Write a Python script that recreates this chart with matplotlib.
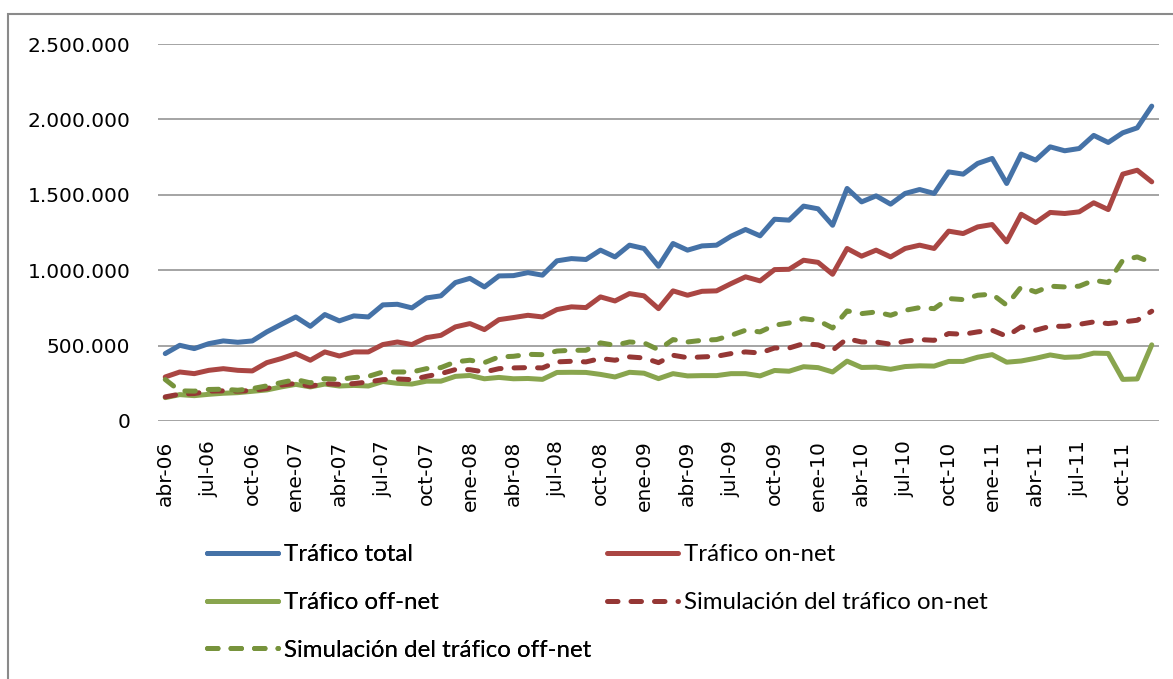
import matplotlib
matplotlib.use("Agg")
import matplotlib.pyplot as plt
from matplotlib.patches import Rectangle
from matplotlib.ticker import FuncFormatter

# mensual, abr-06 .. dic-11 (69 meses)
trafico_total = [447, 502, 480, 513, 531, 522, 531, 591, 641, 690, 628, 706, 664, 697, 690, 770, 774, 750,
                 816, 830, 918, 946, 889, 962, 964, 984, 967, 1062, 1077, 1071, 1133, 1088, 1166, 1144, 1026,
                 1177, 1133, 1161, 1166, 1225, 1270, 1228, 1338, 1332, 1425, 1407, 1298, 1542, 1453, 1493,
                 1438, 1509, 1535, 1509, 1652, 1637, 1708, 1741, 1575, 1770, 1730, 1818, 1792, 1807, 1894,
                 1847, 1911, 1944, 2088]
trafico_on = [292, 325, 314, 336, 347, 336, 332, 387, 414, 447, 403, 458, 431, 458, 458, 507, 524, 507,
              553, 568, 624, 646, 606, 672, 686, 701, 690, 739, 757, 752, 823, 796, 845, 830, 745, 863, 834,
              860, 863, 911, 956, 929, 1004, 1006, 1066, 1052, 973, 1144, 1093, 1133, 1088, 1144, 1166, 1144,
              1259, 1243, 1287, 1303, 1188, 1371, 1316, 1383, 1376, 1387, 1447, 1402, 1637, 1663, 1586]
trafico_off = [155, 175, 168, 177, 184, 188, 197, 206, 226, 243, 226, 245, 232, 236, 232, 262, 250, 245,
               264, 264, 296, 302, 280, 289, 280, 282, 276, 322, 323, 322, 309, 292, 323, 317, 281, 314, 299,
               301, 301, 314, 314, 299, 335, 330, 360, 354, 325, 397, 355, 357, 343, 361, 366, 364, 395, 395,
               423, 440, 390, 398, 416, 438, 422, 426, 450, 448, 276, 279, 505]
sim_on = [160, 178, 182, 198, 200, 198, 202, 215, 238, 249, 231, 248, 243, 248, 259, 274, 279, 274, 296,
          314, 341, 340, 325, 347, 352, 354, 352, 392, 396, 392, 414, 403, 425, 418, 387, 436, 420, 425, 429,
          447, 458, 451, 484, 484, 513, 505, 469, 546, 524, 524, 509, 529, 540, 535, 580, 575, 591, 602, 562,
          624, 602, 628, 628, 641, 657, 646, 657, 668, 728]
sim_off = [275, 200, 198, 209, 211, 204, 215, 233, 255, 275, 253, 281, 276, 288, 296, 325, 325, 325, 347,
           354, 392, 403, 387, 425, 429, 442, 440, 464, 469, 469, 518, 502, 524, 518, 473, 540, 524, 535, 540,
           568, 602, 591, 635, 650, 679, 666, 617, 730, 712, 723, 701, 734, 752, 745, 812, 805, 834, 841, 768,
           889, 856, 894, 889, 894, 933, 918, 1066, 1088, 1050]

etiquetas = ["abr-06", "jul-06", "oct-06", "ene-07", "abr-07", "jul-07", "oct-07", "ene-08", "abr-08",
             "jul-08", "oct-08", "ene-09", "abr-09", "jul-09", "oct-09", "ene-10", "abr-10", "jul-10",
             "oct-10", "ene-11", "abr-11", "jul-11", "oct-11"]

plt.rcParams["font.family"] = ["DejaVu Sans"]

W, H = 1173, 679
fig = plt.figure(figsize=(W / 100, H / 100), dpi=100)
ax = fig.add_axes([158 / W, 1 - 421 / H, (1159 - 158) / W, (421 - 44) / H])

x = list(range(len(trafico_total)))
miles = lambda s: [v * 1000 for v in s]

dash = (2.1, 2.6)
l_total, = ax.plot(x, miles(trafico_total), color="#4572A7", lw=3.6, solid_joinstyle="round",
                   solid_capstyle="round", label="Tráfico total")
l_on, = ax.plot(x, miles(trafico_on), color="#AA4643", lw=3.6, solid_joinstyle="round",
                solid_capstyle="round", label="Tráfico on-net")
l_off, = ax.plot(x, miles(trafico_off), color="#89A54E", lw=3.6, solid_joinstyle="round",
                 solid_capstyle="round", label="Tráfico off-net")
l_son, = ax.plot(x, miles(sim_on), color="#953735", lw=3.6, dashes=dash, dash_capstyle="round",
                 label="Simulación del tráfico on-net")
l_soff, = ax.plot(x, miles(sim_off), color="#77933C", lw=3.6, dashes=dash, dash_capstyle="round",
                  label="Simulación del tráfico off-net")

ax.set_xlim(-0.5, len(x) - 0.5)
ax.set_ylim(0, 2500000)
ax.set_yticks(range(0, 2500001, 500000))
ax.yaxis.set_major_formatter(FuncFormatter(lambda v, p: f"{int(v):,}".replace(",", ".")))
ax.set_xticks(range(0, len(x), 3))
ax.set_xticklabels(etiquetas, rotation=90)
ax.tick_params(axis="y", length=0, pad=20, labelsize=14.5)
ax.tick_params(axis="x", length=0, pad=14, labelsize=14.5)
ax.grid(axis="y", color="#8c8c8c", lw=1.1)
ax.set_axisbelow(True)
for s in ax.spines.values():
    s.set_visible(False)

# marco exterior del grafico
fig.patches.append(Rectangle((8 / W, -0.1), 1.2, 1.1 - 14 / H, transform=fig.transFigure,
                             fill=False, edgecolor="#8a8a8a", lw=1.5))

leg_kw = dict(loc="upper left", frameon=False, handlelength=2.95, handletextpad=0.25,
              labelspacing=1.12, borderpad=0, borderaxespad=0,
              prop={"family": ["Lato", "DejaVu Sans"], "size": 17.3})
leg1 = fig.legend(handles=[l_total, l_off, l_soff], bbox_to_anchor=(207 / W, 1 - 544 / H), **leg_kw)
fig.legend(handles=[l_on, l_son], bbox_to_anchor=(607 / W, 1 - 544 / H), **leg_kw)
fig.add_artist(leg1)

fig.savefig("out.png", dpi=100)
